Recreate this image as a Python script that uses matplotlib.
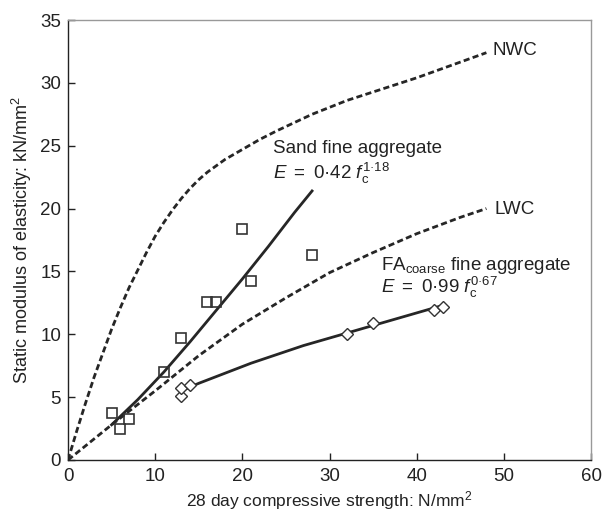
import matplotlib
matplotlib.use("Agg")
import matplotlib.pyplot as plt

plt.rcParams['font.family'] = ['Liberation Sans', 'DejaVu Sans']
plt.rcParams['mathtext.fontset'] = 'custom'
plt.rcParams['mathtext.rm'] = 'Liberation Sans'
plt.rcParams['mathtext.it'] = 'Liberation Sans:italic'
plt.rcParams['mathtext.bf'] = 'Liberation Sans:bold'

# NWC curve
nwc_x = [0, 1, 2, 3, 4, 5, 6, 7, 8, 9, 10, 11, 12, 13, 14, 15, 16, 17, 18, 20,
         22, 24, 28, 32, 36, 40, 44, 48]
nwc_y = [0, 2.3, 4.5, 6.6, 8.5, 10.4, 12.1, 13.7, 15.1, 16.5, 17.8, 18.9, 19.9,
         20.8, 21.6, 22.3, 22.9, 23.4, 23.9, 24.7, 25.5, 26.2, 27.5, 28.6, 29.5,
         30.4, 31.4, 32.4]

# LWC curve
lwc_x = [0, 5, 10, 15, 20, 25, 30, 35, 40, 45, 48]
lwc_y = [0, 2.8, 5.5, 8.3, 10.8, 12.9, 14.9, 16.5, 18.0, 19.3, 20.0]

# Sand fine aggregate fit line
sand_fit_x = [5, 8, 11, 14, 17, 20, 23, 26, 28]
sand_fit_y = [2.8, 4.8, 7.0, 9.4, 11.9, 14.4, 17.0, 19.7, 21.4]

# FA coarse fit line
fa_fit_x = [13, 15, 18, 21, 24, 27, 30, 33, 36, 39, 43]
fa_fit_y = [5.5, 6.1, 6.9, 7.7, 8.4, 9.1, 9.7, 10.3, 10.9, 11.5, 12.3]

# Sand data points (squares)
sand_x = [5, 6, 7, 11, 13, 16, 17, 20, 21, 28]
sand_y = [3.7, 2.5, 3.25, 7.0, 9.7, 12.6, 12.6, 18.4, 14.2, 16.3]

# FA coarse data points (diamonds)
fa_x = [13, 13, 14, 32, 35, 42, 43]
fa_y = [5.1, 5.7, 6.0, 10.0, 10.9, 11.9, 12.2]

xticks = [0, 10, 20, 30, 40, 50, 60]
yticks = [0, 5, 10, 15, 20, 25, 30, 35]

fig = plt.figure(figsize=(6.13, 5.16), dpi=100)
ax = fig.add_axes([68/613, 1-460/516, (591-68)/613, (460-20)/516])

dark = '#262626'
ax.plot(nwc_x, nwc_y, color=dark, lw=2.0, dashes=(2.2, 1.2))
ax.plot(lwc_x, lwc_y, color=dark, lw=2.0, dashes=(2.2, 1.2))
ax.plot(sand_fit_x, sand_fit_y, color=dark, lw=2.0)
ax.plot(fa_fit_x, fa_fit_y, color=dark, lw=2.0)
ax.plot(sand_x, sand_y, ls='none', marker='s', ms=7, mfc='none', mec='#333333', mew=1.2)
ax.plot(fa_x, fa_y, ls='none', marker='D', ms=6, mfc='white', mec='#333333', mew=1.0)

ax.set_xlim(0, 60)
ax.set_ylim(0, 35)
ax.set_xticks(xticks)
ax.set_yticks(yticks)
ax.tick_params(direction='in', length=5, width=1, labelsize=13.5, colors='#222222', pad=5)
ax.tick_params(axis='x', pad=6)
for s in ['left', 'bottom']:
    ax.spines[s].set_color('#222222')
    ax.spines[s].set_linewidth(1.0)
for s in ['top', 'right']:
    ax.spines[s].set_color('#999999')
    ax.spines[s].set_linewidth(1.0)

ax.set_xlabel('28 day compressive strength: N/mm$^2$', fontsize=12.5, color='#222222', labelpad=3)
ax.set_ylabel('Static modulus of elasticity: kN/mm$^2$', fontsize=13, color='#222222', labelpad=4)

tc = '#222222'
fs = 13.5
ax.text(48.7, 32.6, 'NWC', fontsize=fs, color=tc, va='center', ha='left')
ax.text(48.9, 19.9, 'LWC', fontsize=fs, color=tc, va='center', ha='left')
ax.text(23.5, 24.8, 'Sand fine aggregate', fontsize=fs, color=tc, va='center', ha='left')
ax.text(23.5, 22.8, '$E\\ =\\ $0·42 $f_\\mathrm{c}^{1·18}$', fontsize=fs, color=tc, va='center', ha='left')
ax.text(35.9, 15.5, 'FA$_\\mathrm{coarse}$ fine aggregate', fontsize=fs, color=tc, va='center', ha='left')
ax.text(35.9, 13.7, '$E\\ =\\ $0·99 $f_\\mathrm{c}^{0·67}$', fontsize=fs, color=tc, va='center', ha='left')

fig.savefig('out.png', dpi=100)
